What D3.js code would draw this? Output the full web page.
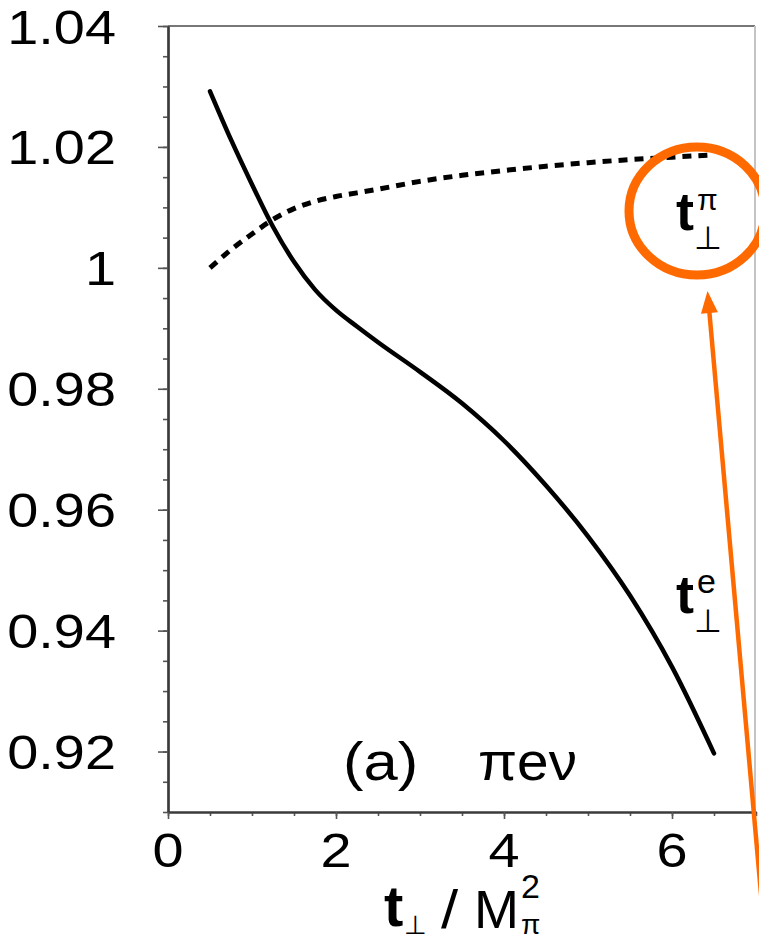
<!DOCTYPE html>
<html>
<head>
<meta charset="utf-8">
<script src="https://cdn.jsdelivr.net/npm/d3@7"></script>
<style>
  html, body { margin: 0; padding: 0; background: #fff; overflow: hidden; }
  text { font-family: "Liberation Sans", Arial, Helvetica, sans-serif; fill: #000; }
</style>
</head>
<body>
<div class="canvas"></div>
<script>
// values
const tValues = [0.5, 0.75, 1, 1.25, 1.5, 1.75, 2, 2.25, 2.5, 3, 3.5, 4, 4.5, 5, 5.5, 6, 6.5]
const ratioE  = [1.0292, 1.0212, 1.0138, 1.0068, 1.0010, 0.9964, 0.9930, 0.9903, 0.9877, 0.9828, 0.9776, 0.9714, 0.9640, 0.9556, 0.9458, 0.9340, 0.9197]
const ratioPi = [1.0000, 1.0030, 1.0056, 1.0080, 1.0098, 1.0110, 1.0118, 1.0124, 1.0130, 1.0143, 1.0153, 1.0161, 1.0168, 1.0174, 1.0179, 1.0183, 1.0187]

const xTickValues = [0, 2, 4, 6]
const xTickLabels = ['0', '2', '4', '6']
const yTickValues = [0.92, 0.94, 0.96, 0.98, 1.0, 1.02, 1.04]
const yTickLabels = ['0.92', '0.94', '0.96', '0.98', '1', '1.02', '1.04']

const dims = { width: 759, height: 941 }
const frame = { left: 168, right: 756, top: 26, bottom: 812 }
const orange = '#ff6a00'
const stretch = 1.14

const svg = d3.select('.canvas')
    .append('svg')
    .attr('width', dims.width)
    .attr('height', dims.height)

const x = d3.scaleLinear().domain([0, 7]).range([frame.left, frame.right])
const y = d3.scaleLinear().domain([0.91, 1.04]).range([frame.bottom, frame.top])

// frame top / right
svg.append('line')
    .attr('x1', frame.left).attr('x2', frame.right - 1)
    .attr('y1', frame.top).attr('y2', frame.top)
    .attr('stroke', '#777').attr('stroke-width', 2)
svg.append('line')
    .attr('x1', frame.right - 1).attr('x2', frame.right - 1)
    .attr('y1', frame.top).attr('y2', frame.bottom)
    .attr('stroke', '#c4c4c4').attr('stroke-width', 2)

// axes: major + minor ticks
const yMinor = d3.range(0.91, 1.0401, 0.005)
const xMinor = d3.range(0, 7.01, 0.5)

const yAxisG = svg.append('g').attr('transform', `translate(${frame.left},0)`)
yAxisG.append('g').call(d3.axisLeft(y).tickValues(yMinor).tickSize(5).tickSizeOuter(0).tickFormat(() => ''))
yAxisG.append('g').call(d3.axisLeft(y).tickValues(yTickValues).tickSize(10).tickSizeOuter(0).tickFormat(() => ''))

const xAxisG = svg.append('g').attr('transform', `translate(0,${frame.bottom})`)
xAxisG.append('g').call(d3.axisBottom(x).tickValues(xMinor).tickSize(4).tickSizeOuter(0).tickFormat(() => ''))
xAxisG.append('g').call(d3.axisBottom(x).tickValues(xTickValues).tickSize(7).tickSizeOuter(0).tickFormat(() => ''))

svg.selectAll('.domain').attr('stroke', '#3a3a3a').attr('stroke-width', 2.2)
svg.selectAll('.tick line').attr('stroke', '#555').attr('stroke-width', 1.6)

// tick labels
svg.append('g').selectAll('text')
    .data(yTickValues)
    .enter()
    .append('text')
    .attr('transform', d => `translate(116,${y(d) + 17.5}) scale(${stretch},1)`)
    .attr('text-anchor', 'end')
    .attr('font-size', 49)
    .text((d, i) => yTickLabels[i])

svg.append('g').selectAll('text')
    .data(xTickValues)
    .enter()
    .append('text')
    .attr('transform', d => `translate(${x(d)},867) scale(${stretch},1)`)
    .attr('text-anchor', 'middle')
    .attr('font-size', 49)
    .text((d, i) => xTickLabels[i])

// curves
const line = d3.line()
    .x((d, i) => x(tValues[i]))
    .y(d => y(d))
    .curve(d3.curveMonotoneX)

svg.append('path')
    .datum(ratioE)
    .attr('d', line)
    .attr('fill', 'none')
    .attr('stroke', '#000')
    .attr('stroke-width', 4.5)
    .attr('stroke-linecap', 'round')

svg.append('path')
    .datum(ratioPi)
    .attr('d', line)
    .attr('fill', 'none')
    .attr('stroke', '#000')
    .attr('stroke-width', 5)
    .attr('stroke-dasharray', '9,7')

// curve labels t⊥^π, t⊥^e
const curveLabel = (tx, base, sup, supSize) => {
    const g = svg.append('g')
    g.append('text').attr('x', tx).attr('y', base)
        .attr('font-size', 54).attr('font-weight', 'bold').text('t')
    g.append('text').attr('x', tx + 21).attr('y', base - 20)
        .attr('font-size', supSize).attr('font-family', '"DejaVu Serif", serif').text(sup)
    g.append('text').attr('x', tx + 18).attr('y', base + 19)
        .attr('font-size', 32).attr('font-family', '"DejaVu Sans", sans-serif').text('⊥')
}
curveLabel(676, 230, 'π', 30)
curveLabel(676, 613, 'e', 34)

// panel label
svg.append('text')
    .attr('transform', `translate(343,780) scale(${stretch},1)`)
    .attr('font-size', 54)
    .text('(a)')
svg.append('text')
    .attr('transform', `translate(478,780) scale(1.05,1)`)
    .attr('font-size', 54)
    .text('πeν')

// axis title t⊥ / M²π
const title = svg.append('g')
title.append('text').attr('x', 384).attr('y', 926)
    .attr('font-size', 58).attr('font-weight', 'bold').text('t')
title.append('text').attr('x', 404).attr('y', 934)
    .attr('font-size', 26).attr('font-family', '"DejaVu Sans", sans-serif').text('⊥')
title.append('text').attr('transform', `translate(441,928) scale(${stretch},1)`)
    .attr('font-size', 54).text('/')
title.append('text').attr('x', 474).attr('y', 928)
    .attr('font-size', 54).text('M')
title.append('text').attr('x', 521).attr('y', 898)
    .attr('font-size', 34).text('2')
title.append('text').attr('x', 521).attr('y', 934)
    .attr('font-size', 28).attr('font-family', '"DejaVu Serif", serif').text('π')

// orange highlight: ellipse + arrow
svg.append('ellipse')
    .attr('cx', 697).attr('cy', 211)
    .attr('rx', 68).attr('ry', 64)
    .attr('fill', 'none')
    .attr('stroke', orange)
    .attr('stroke-width', 9)

const tip = { x: 707.5, y: 291 }
const tail = { x: 766, y: 950 }
const len = Math.hypot(tip.x - tail.x, tip.y - tail.y)
const dir = { x: (tip.x - tail.x) / len, y: (tip.y - tail.y) / len }
const perp = { x: -dir.y, y: dir.x }
const headLen = 22, headHalf = 8.5
const base = { x: tip.x - dir.x * headLen, y: tip.y - dir.y * headLen }

svg.append('line')
    .attr('x1', tail.x).attr('y1', tail.y)
    .attr('x2', base.x + dir.x * 2).attr('y2', base.y + dir.y * 2)
    .attr('stroke', orange)
    .attr('stroke-width', 4.5)

svg.append('polygon')
    .attr('points', [
        [tip.x, tip.y],
        [base.x + perp.x * headHalf, base.y + perp.y * headHalf],
        [base.x - perp.x * headHalf, base.y - perp.y * headHalf]
    ].map(p => p.join(',')).join(' '))
    .attr('fill', orange)
</script>
</body>
</html>
